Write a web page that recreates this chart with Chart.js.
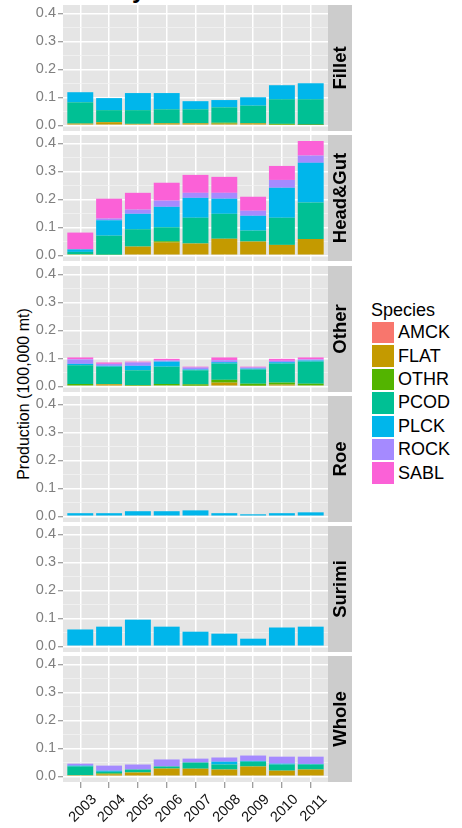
<!DOCTYPE html>
<html>
<head>
<meta charset="utf-8">
<script src="https://cdn.jsdelivr.net/npm/chart.js@4.4.1/dist/chart.umd.min.js"></script>
<style>
  body { margin: 0; width: 462px; height: 828px; overflow: hidden; position: relative; background: #fff;
         font-family: "Liberation Sans", Arial, sans-serif; }
  .panel { position: absolute; left: 0; width: 360px; }
  #title { position: absolute; left: -16px; top: -22px; font-size: 24px; line-height: 24px; font-weight: bold; white-space: nowrap; }
  #ytitle { position: absolute; left: 24px; top: 394px; transform: translate(-50%, -50%) rotate(-90deg);
            font-size: 16px; white-space: nowrap; color: #000; }
  #legend { position: absolute; left: 371px; top: 301px; }
  #legend .head { font-size: 18px; line-height: 18px; height: 20px; }
  #legend .row { height: 23.4px; display: flex; align-items: center; }
  #legend .key { width: 24px; height: 23.4px; box-sizing: border-box; border: 0.5px solid #fff; }
  #legend .lab { font-size: 18px; margin-left: 3px; }
</style>
</head>
<body>
<div id="title">Production by Products</div>
<div id="ytitle">Production (100,000 mt)</div>
<div id="legend"></div>
<div id="plots"></div>
<script>
const years = [2003, 2004, 2005, 2006, 2007, 2008, 2009, 2010, 2011];
const species = ['AMCK', 'FLAT', 'OTHR', 'PCOD', 'PLCK', 'ROCK', 'SABL'];
const speciesColors = ['#F8766D', '#C49A00', '#53B400', '#00C094', '#00B6EB', '#A58AFF', '#FB61D7'];
const facets = ['Fillet', 'Head&Gut', 'Other', 'Roe', 'Surimi', 'Whole'];
// y grid: labelled major lines every 0.1, minor lines in between
const yGrid = [0, 0.05, 0.1, 0.15, 0.2, 0.25, 0.3, 0.35, 0.4];
const yLabels = ['0.0', '', '0.1', '', '0.2', '', '0.3', '', '0.4'];

// production per species (100,000 mt), one small table per product type
const fillet = {
  FLAT: [0.006, 0.011, 0.005, 0.007, 0.007, 0.006, 0.007, 0.002, 0.001],
  OTHR: [0, 0, 0, 0, 0, 0.003, 0, 0.003, 0],
  PCOD: [0.076, 0.043, 0.049, 0.050, 0.050, 0.055, 0.063, 0.088, 0.092],
  PLCK: [0.036, 0.043, 0.061, 0.058, 0.029, 0.026, 0.030, 0.050, 0.057]
};
const headGut = {
  FLAT: [0, 0, 0.031, 0.046, 0.042, 0.059, 0.049, 0.037, 0.058],
  OTHR: [0.004, 0.002, 0, 0.004, 0, 0, 0, 0, 0],
  PCOD: [0.008, 0.068, 0.062, 0.050, 0.092, 0.089, 0.039, 0.097, 0.130],
  PLCK: [0.009, 0.055, 0.055, 0.073, 0.071, 0.054, 0.053, 0.107, 0.142],
  ROCK: [0, 0.006, 0.015, 0.022, 0.018, 0.021, 0.018, 0.028, 0.026],
  SABL: [0.060, 0.071, 0.060, 0.064, 0.064, 0.057, 0.050, 0.050, 0.052]
};
const other = {
  FLAT: [0.003, 0.007, 0.002, 0.003, 0.002, 0.013, 0.002, 0.006, 0.003],
  OTHR: [0.005, 0.001, 0.002, 0.005, 0.005, 0.010, 0.007, 0.007, 0.006],
  PCOD: [0.067, 0.062, 0.053, 0.062, 0.050, 0.058, 0.051, 0.068, 0.079],
  PLCK: [0.005, 0.003, 0.016, 0.018, 0.003, 0.005, 0.003, 0.005, 0.004],
  ROCK: [0.016, 0.007, 0.012, 0.004, 0.007, 0.007, 0.004, 0.005, 0.004],
  SABL: [0.007, 0.005, 0.003, 0.006, 0.003, 0.010, 0.003, 0.007, 0.007]
};
const roe = {
  PLCK: [0.011, 0.011, 0.018, 0.018, 0.021, 0.011, 0.007, 0.011, 0.014]
};
const surimi = {
  PLCK: [0.060, 0.070, 0.095, 0.070, 0.052, 0.045, 0.027, 0.067, 0.070]
};
const whole = {
  FLAT: [0.004, 0.007, 0.013, 0.027, 0.027, 0.024, 0.035, 0.020, 0.024],
  OTHR: [0, 0.003, 0.001, 0.001, 0, 0, 0, 0, 0],
  PCOD: [0.031, 0.006, 0.010, 0.007, 0.022, 0.018, 0.017, 0.022, 0.018],
  PLCK: [0.003, 0.004, 0, 0, 0, 0.010, 0.003, 0.003, 0.002],
  ROCK: [0.007, 0.018, 0.018, 0.025, 0.014, 0.015, 0.019, 0.025, 0.026]
};
const facetData = [fillet, headGut, other, roe, surimi, whole];

const FONT = '"Liberation Sans", Arial, sans-serif';
const TICK_SIZE = 14.5;
const panelTops = [5, 135, 266, 396, 526, 656];
const PANEL_H = 126;
const PAD = 11; // room above/below each panel for the y tick labels

// y axis = tick (5) + label + 2*padding(2); left padding puts the panel edge at x = 63
const mctx = document.createElement('canvas').getContext('2d');
mctx.font = TICK_SIZE + 'px ' + FONT;
const labW = mctx.measureText('0.0').width;
const padLeft = 63 - 9 - labW;

// grey panel background
const panelBg = {
  id: 'panelBg',
  beforeDraw(chart) {
    const { ctx, chartArea: a } = chart;
    ctx.save();
    ctx.fillStyle = '#E5E5E5';
    ctx.fillRect(a.left, a.top, a.right - a.left, a.bottom - a.top);
    ctx.restore();
  }
};

// facet strip on the right
const strip = {
  id: 'strip',
  afterDraw(chart, args, opts) {
    const { ctx, chartArea: a } = chart;
    ctx.save();
    ctx.fillStyle = '#CCCCCC';
    ctx.fillRect(a.right, a.top, 24, a.bottom - a.top);
    ctx.translate(a.right + 12.5, (a.top + a.bottom) / 2);
    ctx.rotate(-Math.PI / 2);
    ctx.fillStyle = '#000';
    ctx.font = 'bold 18.5px ' + FONT;
    ctx.textAlign = 'center';
    ctx.textBaseline = 'middle';
    ctx.fillText(opts.text, 0, 0);
    ctx.restore();
  }
};

const isMajor = c => yLabels[c.index] !== '';

facets.forEach((name, i) => {
  const last = i === facets.length - 1;
  const wrap = document.createElement('div');
  wrap.className = 'panel';
  wrap.style.top = (panelTops[i] - PAD) + 'px';
  wrap.style.height = (last ? 828 - panelTops[i] + PAD : PANEL_H + 2 * PAD) + 'px';
  const cv = document.createElement('canvas');
  wrap.appendChild(cv);
  document.getElementById('plots').appendChild(wrap);

  const table = facetData[i];
  const datasets = species.filter(s => table[s]).map(s => ({
    label: s,
    data: years.map((yr, k) => ({ x: yr, y: table[s][k] })),
    backgroundColor: speciesColors[species.indexOf(s)],
    borderWidth: 0,
    barPercentage: 0.9,
    categoryPercentage: 1
  }));

  new Chart(cv, {
    type: 'bar',
    data: { datasets },
    plugins: [panelBg, strip],
    options: {
      responsive: true,
      maintainAspectRatio: false,
      animation: false,
      layout: { padding: { left: padLeft, right: 32, top: PAD, bottom: last ? 0 : PAD } },
      plugins: {
        legend: { display: false },
        tooltip: { enabled: false },
        strip: { text: name }
      },
      scales: {
        x: {
          type: 'linear',
          stacked: true,
          min: 2002.4,
          max: 2011.6,
          offset: false,
          border: { display: false },
          afterBuildTicks: s => { s.ticks = years.map(v => ({ value: v })); },
          grid: { offset: false, color: '#fff', lineWidth: 1.5, drawTicks: last,
                  tickLength: 6, tickColor: '#7f7f7f', tickWidth: 1 },
          ticks: {
            display: last, autoSkip: false,
            minRotation: 45, maxRotation: 45, padding: 3, labelOffset: 14, color: '#111',
            font: { family: FONT, size: TICK_SIZE },
            callback: (v, k) => String(years[k])
          },
          afterFit: s => {
            s.height = last ? 828 - panelTops[i] - PANEL_H : 0;
            s.paddingLeft = 0; s.paddingRight = 0;
          }
        },
        y: {
          position: 'left',
          stacked: true,
          min: -0.0205,
          max: 0.4295,
          border: { display: false },
          afterBuildTicks: s => { s.ticks = yGrid.map(v => ({ value: v })); },
          grid: {
            color: c => isMajor(c) ? '#fff' : '#F2F2F2',
            lineWidth: c => isMajor(c) ? 1.5 : 0.8,
            tickColor: c => isMajor(c) ? '#7f7f7f' : 'rgba(0,0,0,0)',
            tickLength: 5,
            tickWidth: 1
          },
          ticks: {
            autoSkip: false, padding: 2,
            color: '#7f7f7f', font: { family: FONT, size: TICK_SIZE },
            callback: (v, k) => yLabels[k]
          }
        }
      }
    }
  });
});

// legend
const leg = document.getElementById('legend');
leg.innerHTML = '<div class="head">Species</div>' + species.map((s, i) =>
  `<div class="row"><span class="key" style="background:${speciesColors[i]}"></span><span class="lab">${s}</span></div>`
).join('');
</script>
</body>
</html>
